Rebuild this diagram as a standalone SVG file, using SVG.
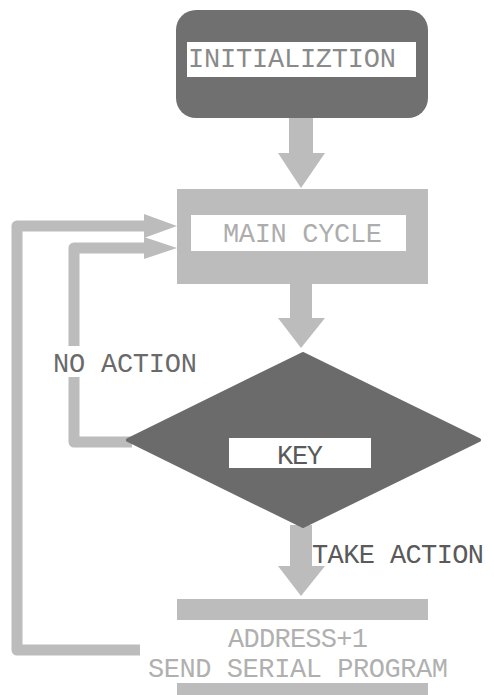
<svg xmlns="http://www.w3.org/2000/svg" width="494" height="695" viewBox="0 0 494 695">
<style>
.t{font-family:"Liberation Mono","DejaVu Sans Mono",monospace;font-size:27px}
.lg{fill:#bcbcbc}
.dk{fill:#707070}
.ln{fill:none;stroke:#bcbcbc;stroke-width:11;stroke-linejoin:round}
</style>
<rect width="494" height="695" fill="#ffffff"/>
<g id="connectors">
<rect class="lg" x="289" y="117" width="24" height="38"/>
<polygon class="lg" points="278,153 325,153 301,188"/>
<rect class="lg" x="290" y="283" width="22" height="37"/>
<polygon class="lg" points="278,318 325,318 301,348"/>
<rect class="lg" x="290" y="525" width="22" height="43"/>
<polygon class="lg" points="278,566 325,566 301,596"/>
<path class="ln" d="M150 650 H17 V226 H150"/>
<polygon class="lg" points="144,214 177,226 144,238"/>
<path class="ln" d="M132 442 H74 V248 H150"/>
<polygon class="lg" points="144,237 177,248 144,259"/>
</g>
<g id="init">
<rect class="dk" x="176" y="10" width="252" height="108" rx="20"/>
<rect fill="#fff" x="187" y="42" width="229" height="35"/>
<text class="t" x="188" y="67" fill="#8a8a8a" textLength="208" lengthAdjust="spacing">INITIALIZTION</text>
</g>
<g id="main">
<rect class="lg" x="177" y="189" width="251" height="95"/>
<rect fill="#fff" x="191" y="215" width="215" height="36"/>
<text class="t" x="223" y="242" fill="#adadad" textLength="159" lengthAdjust="spacing">MAIN CYCLE</text>
</g>
<g id="noaction">
<rect fill="#fff" x="48" y="346" width="154" height="31"/>
<text class="t" x="53" y="372" fill="#6a6a6a" textLength="144" lengthAdjust="spacing">NO ACTION</text>
</g>
<g id="key">
<polygon points="128,440 303,354 479,440 303,526" fill="#6b6b6b" stroke="#6b6b6b" stroke-width="4" stroke-linejoin="round"/>
<rect fill="#fff" x="229" y="438" width="142" height="30"/>
<text class="t" x="277" y="464" fill="#5a5a5a" textLength="46" lengthAdjust="spacing">KEY</text>
</g>
<g id="takeaction">
<text class="t" x="312" y="563" fill="#5a5a5a" textLength="172" lengthAdjust="spacing">TAKE ACTION</text>
</g>
<g id="send">
<rect class="lg" x="177" y="599" width="251" height="100"/>
<rect fill="#fff" x="140" y="620" width="318" height="63"/>
<text class="t" x="228" y="647" fill="#b0b0b0" textLength="140" lengthAdjust="spacing">ADDRESS+1</text>
<text class="t" x="148" y="677" fill="#b0b0b0" textLength="300" lengthAdjust="spacing">SEND SERIAL PROGRAM</text>
</g>
</svg>
